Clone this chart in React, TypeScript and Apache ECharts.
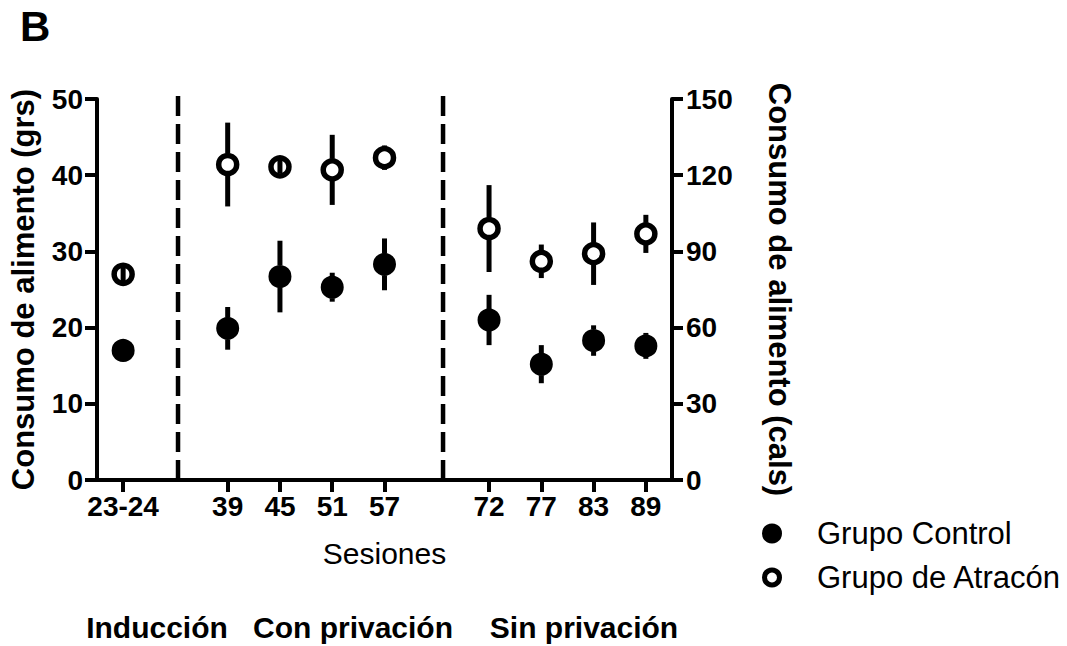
import React, { useEffect, useRef } from "react";
import * as echarts from "echarts";

// ---- data ----
const categories = ["23-24", "sep1", "39", "45", "51", "57", "sep2", "72", "77", "83", "89"];
const separatorCats = ["sep1", "sep2"];
const controlMean: (number | null)[] = [17.0, null, 19.9, 26.7, 25.3, 28.3, null, 21.0, 15.2, 18.3, 17.6];
const controlErr: (number | null)[] = [0, null, 2.8, 4.7, 1.9, 3.4, null, 3.3, 2.5, 2.0, 1.7];
const atraconMean: (number | null)[] = [27.0, null, 41.4, 41.1, 40.7, 42.3, null, 33.0, 28.7, 29.7, 32.3];
const atraconErr: (number | null)[] = [0.9, null, 5.5, 0.9, 4.6, 1.6, null, 5.7, 2.2, 4.1, 2.5];
const separatorPositions = [1.05, 6.12];
const separatorRange = [0, 50.4];
const leftAxis = { min: 0, max: 50, interval: 10 };
const rightAxis = { min: 0, max: 150, interval: 30 };
const phaseLabels = ["Inducción", "Con privación", "Sin privación"];
const seriesNames = ["Grupo Control", "Grupo de Atracón"];

const FONT = '"Liberation Sans", Arial, Helvetica, sans-serif';

export default function App() {
  const ref = useRef<HTMLDivElement>(null);

  useEffect(() => {
    document.body.style.margin = "0";
    if (!ref.current) return;
    const chart = echarts.init(ref.current, undefined, { renderer: "svg" });

    const pairs = (arr: (number | null)[]) =>
      arr.map((v, i) => (v == null ? null : [i, v])).filter((d) => d != null);
    const errPairs = (m: (number | null)[], e: (number | null)[]) =>
      m.map((v, i) => (v == null ? null : [i, v, e[i] ?? 0])).filter((d) => d != null);

    const R = 11;
    const errRender = (params: any, api: any) => {
      const x = api.value(0);
      const m = api.value(1);
      const e = api.value(2);
      if (!e) return null;
      const top = api.coord([x, m + e]);
      const bot = api.coord([x, m - e]);
      const c = api.coord([x, m]);
      const style = { stroke: "#000", lineWidth: 5 };
      if (c[1] - top[1] <= R) {
        return { type: "line", shape: { x1: top[0], y1: top[1], x2: bot[0], y2: bot[1] }, style };
      }
      return {
        type: "group",
        children: [
          { type: "line", shape: { x1: c[0], y1: top[1], x2: c[0], y2: c[1] - R }, style },
          { type: "line", shape: { x1: c[0], y1: c[1] + R, x2: c[0], y2: bot[1] }, style },
        ],
      };
    };

    const sepRender = (params: any, api: any) => {
      const s = api.value(0);
      const p0 = api.coord([s, separatorRange[0]]);
      const p1 = api.coord([s, separatorRange[1]]);
      return {
        type: "line",
        shape: { x1: p0[0], y1: p0[1], x2: p1[0], y2: p1[1] },
        style: { stroke: "#000", lineWidth: 4.5, lineDash: [20, 8] },
      };
    };

    const axisLineStyle = { show: true, onZero: false, lineStyle: { color: "#000", width: 4 } };
    const tickLabel = { color: "#000", fontSize: 28, fontWeight: "bold" as const, fontFamily: FONT };

    chart.setOption({
      animation: false,
      textStyle: { fontFamily: FONT },
      grid: { left: 97, right: 395, top: 99, bottom: 166, containLabel: false },
      legend: {
        orient: "vertical",
        left: 757,
        top: 513,
        itemWidth: 80,
        itemHeight: 15,
        itemGap: 13,
        selectedMode: false,
        textStyle: { color: "#000", fontSize: 31, fontFamily: FONT },
        data: [
          { name: seriesNames[0], icon: "circle", itemStyle: { color: "#000", borderColor: "#000", borderWidth: 5 } },
          { name: seriesNames[1], icon: "circle", itemStyle: { color: "#fff", borderColor: "#000", borderWidth: 5 } },
        ],
      },
      xAxis: [
        {
          type: "category",
          data: categories,
          boundaryGap: true,
          axisLine: axisLineStyle,
          axisTick: {
            show: true,
            alignWithLabel: true,
            length: 12,
            lineStyle: { color: "#000", width: 4 },
            interval: (index: number, value: string) => !separatorCats.includes(value),
          },
          axisLabel: {
            ...tickLabel,
            interval: 0,
            margin: 12,
            formatter: (v: string) => (separatorCats.includes(v) ? "" : v),
          },
          splitLine: { show: false },
          name: "Sesiones",
          nameLocation: "middle",
          nameGap: 58,
          nameTextStyle: { color: "#000", fontSize: 30, fontFamily: FONT },
        },
        { type: "value", min: -0.5, max: 10.5, show: false },
      ],
      yAxis: [
        {
          type: "value",
          position: "left",
          ...leftAxis,
          axisLine: axisLineStyle,
          axisTick: { show: true, length: 12, lineStyle: { color: "#000", width: 4 } },
          axisLabel: { ...tickLabel, margin: 14 },
          splitLine: { show: false },
          name: "Consumo de alimento (grs)",
          nameLocation: "middle",
          nameRotate: 90,
          nameGap: 58,
          nameTextStyle: { color: "#000", fontSize: 31, fontWeight: "bold", fontFamily: FONT },
        },
        {
          type: "value",
          position: "right",
          ...rightAxis,
          axisLine: axisLineStyle,
          axisTick: { show: true, length: 11, lineStyle: { color: "#000", width: 4 } },
          axisLabel: { ...tickLabel, margin: 14 },
          splitLine: { show: false },
          name: "Consumo de alimento (cals)",
          nameLocation: "middle",
          nameRotate: -90,
          nameGap: 92,
          nameTextStyle: { color: "#000", fontSize: 31, fontWeight: "bold", fontFamily: FONT },
        },
      ],
      series: [
        {
          name: "separators",
          type: "custom",
          xAxisIndex: 1,
          yAxisIndex: 0,
          z: 1,
          data: separatorPositions.map((s) => [s]),
          renderItem: sepRender,
          silent: true,
        },
        {
          name: seriesNames[0],
          type: "scatter",
          xAxisIndex: 0,
          yAxisIndex: 0,
          z: 2,
          symbol: "circle",
          symbolSize: 18,
          itemStyle: { color: "#000", borderColor: "#000", borderWidth: 5, opacity: 1 },
          data: pairs(controlMean),
        },
        {
          name: seriesNames[1],
          type: "scatter",
          xAxisIndex: 0,
          yAxisIndex: 0,
          z: 2,
          symbol: "circle",
          symbolSize: 18,
          itemStyle: { color: "#fff", borderColor: "#000", borderWidth: 5.5, opacity: 1 },
          data: pairs(atraconMean),
        },
        {
          name: "errControl",
          type: "custom",
          xAxisIndex: 0,
          yAxisIndex: 0,
          z: 3,
          data: errPairs(controlMean, controlErr),
          renderItem: errRender,
          silent: true,
        },
        {
          name: "errAtracon",
          type: "custom",
          xAxisIndex: 0,
          yAxisIndex: 0,
          z: 3,
          data: errPairs(atraconMean, atraconErr),
          renderItem: errRender,
          silent: true,
        },
      ],
      graphic: [
        {
          type: "text",
          left: 20,
          top: 5,
          style: { text: "B", fontSize: 42, fontWeight: "bold", fill: "#000", fontFamily: FONT },
        },
        ...[157, 353, 584].map((cx, i) => ({
          type: "text",
          x: cx,
          y: 627,
          style: {
            text: phaseLabels[i],
            fontSize: 30,
            fontWeight: "bold",
            fill: "#000",
            fontFamily: FONT,
            textAlign: "center",
            textVerticalAlign: "middle",
          },
        })),
      ],
    });

    return () => chart.dispose();
  }, []);

  return <div ref={ref} style={{ width: 1067, height: 646 }} />;
}
